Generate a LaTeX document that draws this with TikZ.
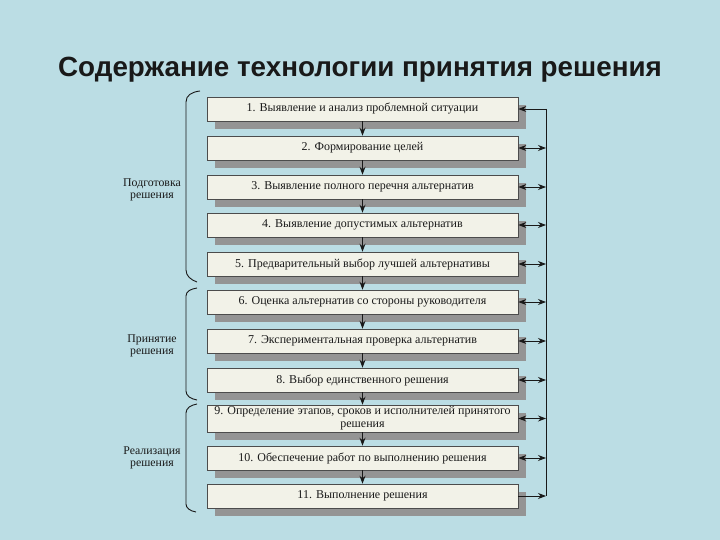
\documentclass[tikz,border=0pt]{standalone}
\usepackage{fontspec}
\setmainfont{Liberation Serif}
\newfontfamily\titlefont{Liberation Sans}
\usetikzlibrary{arrows.meta,shadows}
\definecolor{bg}{RGB}{187,221,228}
\definecolor{boxfill}{RGB}{242,242,232}
\definecolor{shadowgray}{RGB}{148,148,148}
\definecolor{ink}{RGB}{25,25,25}
\begin{document}
\begin{tikzpicture}[x=1pt,y=-1pt,
  stepbox/.style={draw=black!70, line width=0.6pt, fill=boxfill,
    minimum width=311pt, minimum height=24pt, inner sep=1pt,
    font=\fontsize{12}{13}\selectfont, text=ink, align=center,
    drop shadow={shadow xshift=8pt, shadow yshift=-8pt, fill=shadowgray, opacity=1}},
  arr/.style={draw=ink, line width=0.9pt, -{Stealth[length=8pt,width=6pt]}},
  darr/.style={draw=ink, line width=0.9pt, {Stealth[length=8pt,width=6pt]}-{Stealth[length=8pt,width=6pt]}},
  rail/.style={draw=ink, line width=0.9pt},
  brace/.style={draw=ink, line width=0.9pt},
  phase/.style={font=\fontsize{11.8}{12.5}\selectfont, text=ink, align=center}
]
\path[fill=bg] (0,0) rectangle (720,540);
\useasboundingbox (0,0) rectangle (720,540);

\node[text=ink] (title) at (360,70) {\titlefont\bfseries\fontsize{27.8}{32}\selectfont Содержание технологии принятия решения};

\node[stepbox] (b1) at (362.5,109) {1. Выявление и анализ проблемной ситуации};
\node[stepbox] (b2) at (362.5,148) {2. Формирование целей};
\node[stepbox] (b3) at (362.5,187) {3. Выявление полного перечня альтернатив};
\node[stepbox] (b4) at (362.5,225) {4. Выявление допустимых альтернатив};
\node[stepbox] (b5) at (362.5,264) {5. Предварительный выбор лучшей альтернативы};
\node[stepbox] (b6) at (362.5,302) {6. Оценка альтернатив со стороны руководителя};
\node[stepbox] (b7) at (362.5,341) {7. Экспериментальная проверка альтернатив};
\node[stepbox] (b8) at (362.5,380) {8. Выбор единственного решения};
\node[stepbox, minimum height=27pt, inner sep=0.3pt] (b9) at (362.5,418.5) {9. Определение этапов, сроков и исполнителей принятого\\решения};
\node[stepbox] (b10) at (362.5,458) {10. Обеспечение работ по выполнению решения};
\node[stepbox] (b11) at (362.5,496) {11. Выполнение решения};

\foreach \a/\b in {b1/b2,b2/b3,b3/b4,b4/b5,b5/b6,b6/b7,b7/b8,b8/b9,b9/b10,b10/b11}
  \draw[arr] (\a.south) -- (\b.north);

\coordinate (railtop) at (546,109);
\coordinate (railbot) at (546,496);
\draw[rail] (railtop) -- (railbot);
\draw[arr] (railtop) -- (b1.east);
\foreach \b in {b2,b3,b4,b5,b6,b7,b8,b9,b10}
  \draw[darr] (\b.east) -- (\b.east -| railtop);
\draw[arr] (b11.east) -- (railbot);

% phase brackets
\draw[brace] (200,91) .. controls (192,92) and (186,95) .. (186,102) -- (186,270) .. controls (186,276) and (191,280) .. (197,282);
\draw[brace] (197,288) .. controls (191,289) and (186,291) .. (186,296) -- (186,391) .. controls (186,396) and (191,399) .. (197,400);
\draw[brace] (197,404) .. controls (191,405) and (186,408) .. (186,413) -- (186,504) .. controls (186,508) and (190,511) .. (196,512);

\node[phase] (p1) at (152,190) {Подготовка\\решения};
\node[phase] (p2) at (152,346) {Принятие\\решения};
\node[phase] (p3) at (152,458) {Реализация\\решения};
\end{tikzpicture}
\end{document}
